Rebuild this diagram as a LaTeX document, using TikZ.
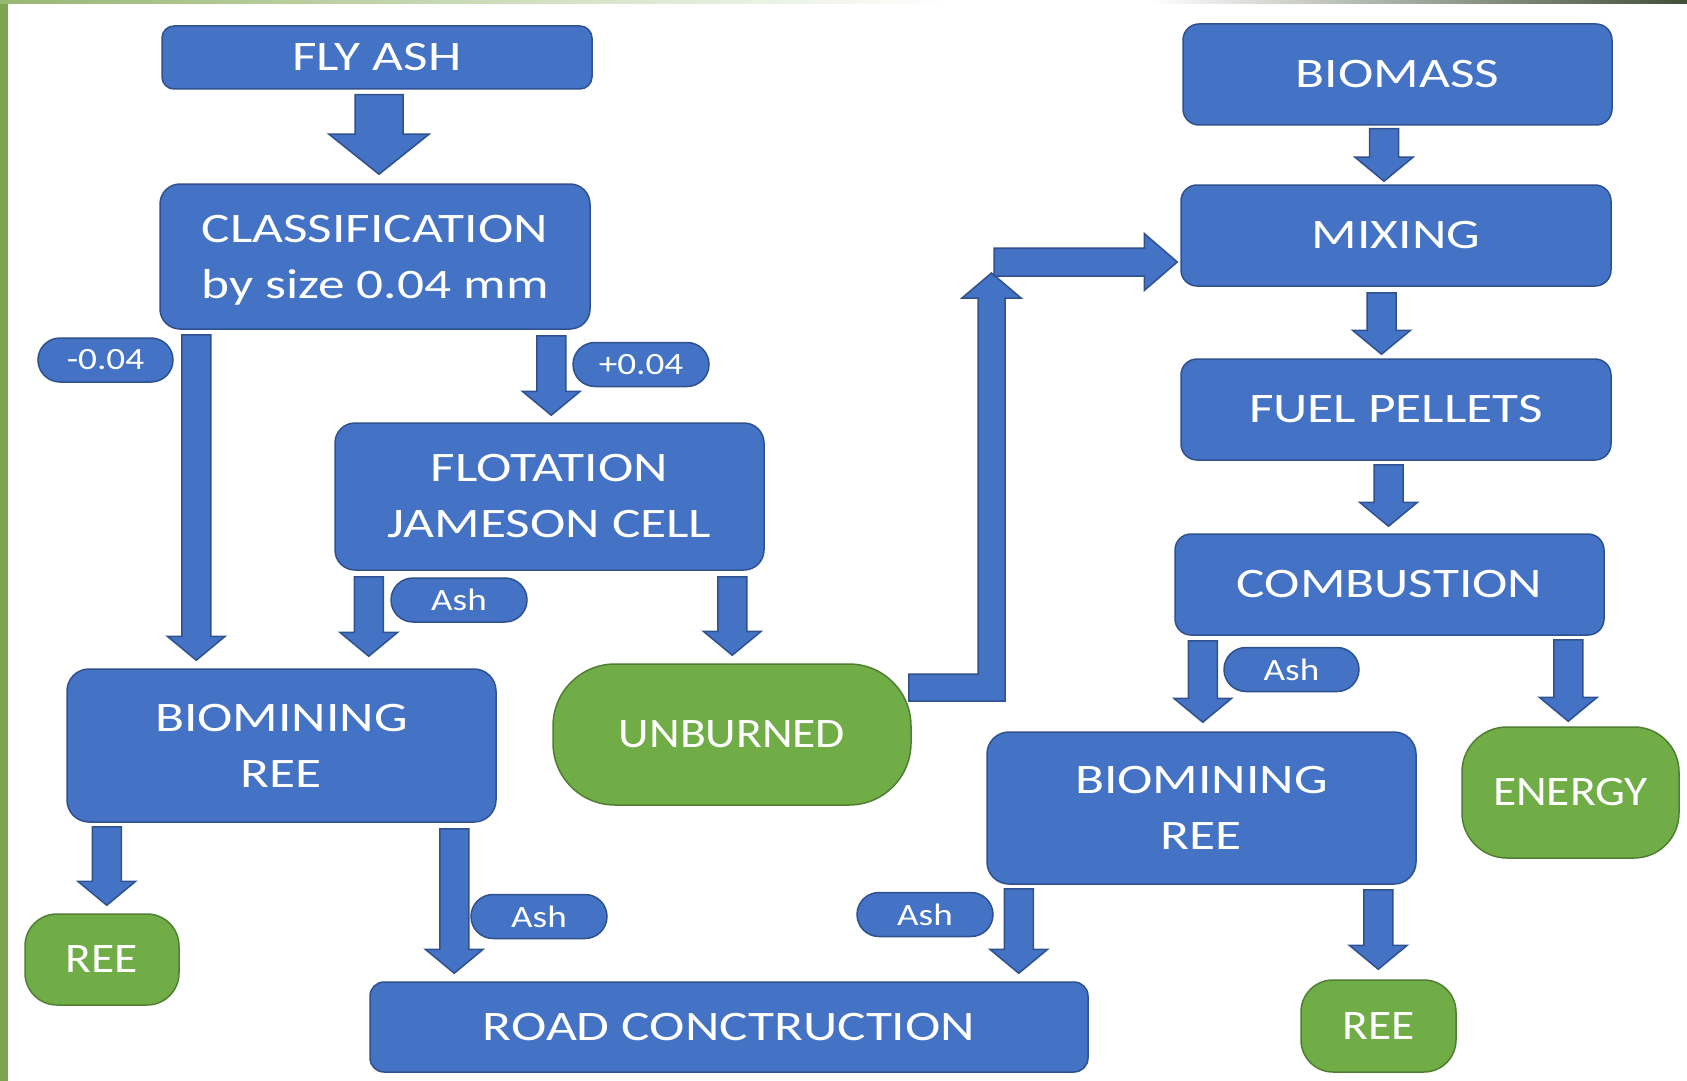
\documentclass[tikz,border=0pt]{standalone}
\usepackage{fontspec}
\setmainfont{Carlito}[FakeStretch=1.13]
\newfontfamily\widefont{Carlito}[FakeStretch=1.27]
\newfontfamily\tagfont{Carlito}[FakeStretch=1.2]
\usetikzlibrary{calc}

\newlength{\du}
\setlength{\du}{0.5pt}

\definecolor{boxblue}{rgb}{0.267, 0.447, 0.769}
\definecolor{boxblueline}{rgb}{0.184, 0.322, 0.561}
\definecolor{boxgreen}{rgb}{0.439, 0.678, 0.278}
\definecolor{boxgreenline}{rgb}{0.314, 0.494, 0.196}
\definecolor{stripgreen}{rgb}{0.490, 0.647, 0.310}
\definecolor{stripdark}{rgb}{0.255, 0.310, 0.220}

\tikzset{
  bluebox/.style={draw=boxblueline, fill=boxblue, line width=0.75pt, text=white,
    inner sep=0pt, align=center, rounded corners=16\du,
    font=\widefont\fontsize{21}{28}\selectfont},
  greenbox/.style={bluebox, draw=boxgreenline, fill=boxgreen,
    font=\rmfamily\fontsize{21}{28}\selectfont},
  tagbox/.style={bluebox, minimum width=136\du, minimum height=44\du,
    rounded corners=22\du, font=\tagfont\fontsize{15.5}{18}\selectfont},
  fatarrow/.style={draw=boxblueline, fill=boxblue, line width=0.75pt},
  arrowsize/.code n args={3}{\def\arrsw{#1}\def\arrhw{#2}\def\arrhl{#3}},
  arrowsize={14.5\du}{29\du}{24\du},
  downarrow/.style={fatarrow, to path={let \p1=(\tikztostart), \p2=(\tikztotarget) in
    (\x1-\arrsw,\y1) -- (\x1-\arrsw,\y2+\arrhl) -- (\x1-\arrhw,\y2+\arrhl) -- (\x1,\y2)
    -- (\x1+\arrhw,\y2+\arrhl) -- (\x1+\arrsw,\y2+\arrhl) -- (\x1+\arrsw,\y1) -- cycle}},
  rightarrow/.style={fatarrow, to path={let \p1=(\tikztostart), \p2=(\tikztotarget) in
    (\x1,\y1+\arrsw) -- (\x2-\arrhl,\y1+\arrsw) -- (\x2-\arrhl,\y1+\arrhw) -- (\x2,\y1)
    -- (\x2-\arrhl,\y1-\arrhw) -- (\x2-\arrhl,\y1-\arrsw) -- (\x1,\y1-\arrsw) -- cycle}},
  bentarrow/.style={fatarrow, to path={let \p1=(\tikztostart), \p2=(\tikztotarget) in
    (\x1,\y1+\arrsw) -- (\x2-\arrsw,\y1+\arrsw) -- (\x2-\arrsw,\y2-\arrhl)
    -- (\x2-\arrhw,\y2-\arrhl) -- (\x2,\y2) -- (\x2+\arrhw,\y2-\arrhl)
    -- (\x2+\arrsw,\y2-\arrhl) -- (\x2+\arrsw,\y1-\arrsw) -- (\x1,\y1-\arrsw) -- cycle}},
}

\begin{document}
\begin{tikzpicture}[x=\du, y=-\du]
\useasboundingbox (0,0) rectangle (1687,1081);
% frame of the slide
\fill[stripgreen] (0,0) rectangle (8,1081);
\shade[left color=stripgreen!80, right color=white] (0,0) rectangle (950,4);
\shade[left color=white, right color=stripdark] (1150,0) rectangle (1687,4);

% left branch
\node[bluebox, minimum width=430\du, minimum height=63\du, rounded corners=12\du] (fly) at (377,57.5) {FLY ASH};
\node[bluebox, minimum width=430\du, minimum height=145\du, rounded corners=20\du, text depth=0pt] (class) at (375,256.5) {CLASSIFICATION\\by size 0.04 mm};
\node[bluebox, minimum width=429\du, minimum height=147\du, rounded corners=20\du] (flot) at (549.5,496.5) {FLOTATION\\JAMESON CELL};
\node[bluebox, minimum width=429\du, minimum height=153\du, rounded corners=22\du] (biol) at (281.5,745.5) {BIOMINING\\REE};
\node[greenbox, minimum width=358\du, minimum height=141\du, rounded corners=62\du] (unb) at (732,734.5) {UNBURNED};
\node[greenbox, minimum width=154\du, minimum height=91\du, rounded corners=32\du] (reeL) at (102,959.5) {REE};
\node[bluebox, minimum width=718\du, minimum height=90\du, rounded corners=14\du] (road) at (729,1027) {ROAD CONCTRUCTION};

% right branch
\node[bluebox, minimum width=429\du, minimum height=101\du] (biomass) at (1397.5,74.5) {BIOMASS};
\node[bluebox, minimum width=430\du, minimum height=101\du] (mix) at (1396,235.5) {MIXING};
\node[bluebox, minimum width=430\du, minimum height=101\du] (fuel) at (1396,409.5) {FUEL PELLETS};
\node[bluebox, minimum width=429\du, minimum height=101\du] (comb) at (1389.5,584.5) {COMBUSTION};
\node[bluebox, minimum width=429\du, minimum height=152\du, rounded corners=22\du] (biomR) at (1201.5,808) {BIOMINING\\REE};
\node[greenbox, minimum width=217\du, minimum height=131\du, rounded corners=45\du] (energy) at (1570.5,792.5) {ENERGY};
\node[greenbox, minimum width=155\du, minimum height=92\du, rounded corners=32\du] (reeR) at (1378.5,1026) {REE};

% tags
\node[tagbox, minimum width=135\du] (minus) at (105.5,360) {-0.04};
\node[tagbox] (plus) at (641,364.5) {+0.04};
\node[tagbox] (ashA) at (459,600) {Ash};
\node[tagbox] (ashB) at (539,916.5) {Ash};
\node[tagbox] (ashC) at (925,914.5) {Ash};
\node[tagbox, minimum width=135\du] (ashD) at (1291.5,669.5) {Ash};

% arrows
\draw[downarrow, arrowsize={24\du}{50\du}{40\du}] ([xshift=2\du,yshift=-5\du]fly.south) to ([yshift=9\du]class.north);
\draw[downarrow] ([xshift=37\du,yshift=-5\du]class.south west) to ([yshift=8\du]biol.north);
\draw[downarrow] ([xshift=-39.5\du,yshift=-6\du]class.south east) to ([yshift=7\du]flot.north);
\draw[downarrow] ([xshift=34.5\du,yshift=-6\du]flot.south west) to ([yshift=12\du]biol.north);
\draw[downarrow] ([xshift=-32.5\du,yshift=-6\du]flot.south east) to ([yshift=8\du]unb.north);
\draw[downarrow] ([xshift=40.5\du,yshift=-4\du]biol.south west) to ([yshift=8\du]reeL.north);
\draw[downarrow] ([xshift=-42.5\du,yshift=-6\du]biol.south east) to ([yshift=8\du]road.north);
\draw[downarrow] ([xshift=32.5\du,yshift=-4\du]biomR.south west) to ([yshift=8\du]road.north);
\draw[downarrow] ([xshift=-13.5\du,yshift=-3\du]biomass.south) to ([yshift=3\du]mix.north);
\draw[downarrow] ([xshift=-14.5\du,yshift=-6\du]mix.south) to ([yshift=4\du]fuel.north);
\draw[downarrow] ([xshift=-7.5\du,yshift=-4\du]fuel.south) to ([yshift=7\du]comb.north);
\draw[downarrow] ([xshift=28.5\du,yshift=-5\du]comb.south west) to ([yshift=9\du]biomR.north);
\draw[downarrow] ([xshift=-36.5\du,yshift=-4\du]comb.south east) to ([yshift=5\du]energy.north);
\draw[downarrow] ([xshift=-38.5\du,yshift=-5\du]biomR.south east) to ([yshift=10\du]reeR.north);

% unburned back to mixing
\coordinate (uptip) at (991.5,273);
\coordinate (rtail) at (994,262);
\draw[bentarrow, arrowsize={13.5\du}{29.5\du}{25\du}] ([xshift=-3\du,yshift=47\du]unb.east) to (uptip);
\draw[rightarrow, arrowsize={14\du}{28.5\du}{33\du}] (rtail) to ([xshift=-3\du]mix.west);
\end{tikzpicture}
\end{document}
